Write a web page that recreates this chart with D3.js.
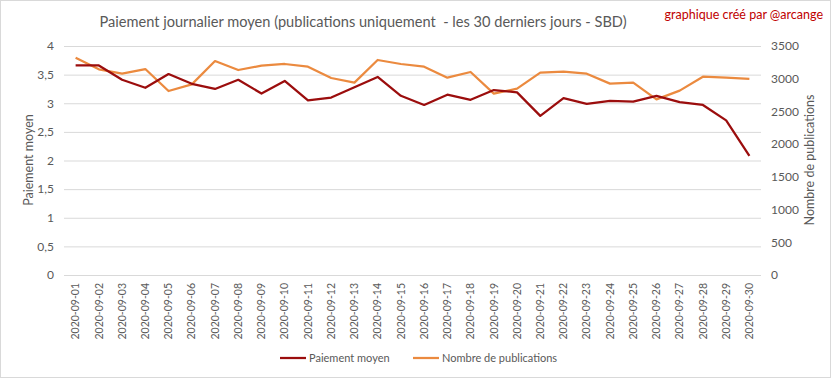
<!DOCTYPE html>
<html><head><meta charset="utf-8">
<script src="https://cdn.jsdelivr.net/npm/d3@7"></script>
<style>
html,body{margin:0;padding:0;background:#fff;}
svg{display:block;font-family:Lato,"Open Sans",sans-serif;}
</style></head>
<body><svg id="c" width="833" height="379"></svg>
<script>
const dates = ["2020-09-01","2020-09-02","2020-09-03","2020-09-04","2020-09-05","2020-09-06","2020-09-07","2020-09-08","2020-09-09","2020-09-10","2020-09-11","2020-09-12","2020-09-13","2020-09-14","2020-09-15","2020-09-16","2020-09-17","2020-09-18","2020-09-19","2020-09-20","2020-09-21","2020-09-22","2020-09-23","2020-09-24","2020-09-25","2020-09-26","2020-09-27","2020-09-28","2020-09-29","2020-09-30"];
const paiementMoyen = [3.66,3.66,3.41,3.27,3.51,3.34,3.25,3.41,3.17,3.39,3.05,3.10,3.28,3.46,3.13,2.97,3.15,3.06,3.23,3.19,2.78,3.09,2.99,3.04,3.03,3.13,3.02,2.97,2.70,2.08];
const nombrePublications = [3321,3144,3077,3148,2812,2913,3270,3133,3199,3225,3183,3011,2940,3286,3225,3183,3016,3103,2772,2849,3092,3107,3077,2925,2940,2685,2818,3031,3016,2996];
const leftTicks = [0,0.5,1,1.5,2,2.5,3,3.5,4];
const rightTicks = [0,500,1000,1500,2000,2500,3000,3500];

const svg = d3.select("#c");
const W=833,H=379;
const m = {l:64, r:761, t:46, b:275};
const grey="#595959";
const red="#9b0d0d", orange="#eb8a3f";

svg.append("rect").attr("x",0.5).attr("y",0.5).attr("width",W-3).attr("height",H-2)
  .attr("fill","#fff").attr("stroke","#d9d9d9");

const x = d3.scaleBand().domain(dates).range([m.l,m.r]);
const yL = d3.scaleLinear().domain([0,4]).range([m.b,m.t]);
const yR = d3.scaleLinear().domain([0,3500]).range([m.b,m.t]);
const cx = d => x(d)+x.bandwidth()/2;

// gridlines
const gl = d3.axisLeft(yL).tickValues(leftTicks).tickSize(-(m.r-m.l)).tickFormat("");
svg.append("g").attr("transform",`translate(${m.l},0)`).call(gl)
  .call(g=>g.select(".domain").remove())
  .call(g=>g.selectAll("line").attr("stroke","#d9d9d9").attr("stroke-width",1));

// left axis labels
const fmt = d=> String(d).replace(".",",");
svg.append("g").attr("transform",`translate(${m.l},0)`)
  .call(d3.axisLeft(yL).tickValues(leftTicks).tickSize(0).tickPadding(10).tickFormat(fmt))
  .call(g=>g.select(".domain").remove())
  .call(g=>g.selectAll("text").attr("fill",grey).attr("font-size",12).attr("font-family","Lato,sans-serif"));

svg.append("g").attr("transform",`translate(${m.r},0)`)
  .call(d3.axisRight(yR).tickValues(rightTicks).tickSize(0).tickPadding(10).tickFormat(d=>String(d)))
  .call(g=>g.select(".domain").remove())
  .call(g=>g.selectAll("text").attr("fill",grey).attr("font-size",12).attr("font-family","Lato,sans-serif"));

// x axis
svg.append("g").attr("transform",`translate(0,${m.b})`)
  .call(d3.axisBottom(x).tickSize(0).tickPadding(0))
  .call(g=>g.select(".domain").remove())
  .call(g=>g.selectAll("text").attr("fill",grey).attr("font-size",10.5).attr("font-family","Lato,sans-serif")
     .attr("text-anchor","end").attr("dy","0.35em").attr("transform","translate(0,8) rotate(-90)").attr("x",0).attr("y",0));

// lines
const lineL = d3.line().x((d,i)=>cx(dates[i])).y(d=>yL(d));
const lineR = d3.line().x((d,i)=>cx(dates[i])).y(d=>yR(d));
svg.append("path").datum(nombrePublications).attr("d",lineR).attr("fill","none").attr("stroke",orange).attr("stroke-width",2.25).attr("stroke-linejoin","round");
svg.append("path").datum(paiementMoyen).attr("d",lineL).attr("fill","none").attr("stroke",red).attr("stroke-width",2.25).attr("stroke-linejoin","round");

// titles
svg.append("text").attr("x",363).attr("y",27).attr("text-anchor","middle").attr("fill",grey)
  .attr("font-size",14.6).text("Paiement journalier moyen (publications uniquement  - les 30 derniers jours - SBD)").attr("xml:space","preserve").style("white-space","pre");
svg.append("text").attr("x",823).attr("y",19).attr("text-anchor","end").attr("fill","#c00000")
  .attr("font-size",12.5).text("graphique créé par @arcange");

svg.append("text").attr("transform","translate(33,160) rotate(-90)").attr("text-anchor","middle").attr("fill",grey)
  .attr("font-size",12.5).text("Paiement moyen");
svg.append("text").attr("transform","translate(814,160) rotate(-90)").attr("text-anchor","middle").attr("fill",grey)
  .attr("font-size",12.5).text("Nombre de publications");

// legend
const leg = [{t:"Paiement moyen",c:red,x:280},{t:"Nombre de publications",c:orange,x:413}];
leg.forEach(l=>{
  svg.append("line").attr("x1",l.x).attr("x2",l.x+26).attr("y1",358).attr("y2",358).attr("stroke",l.c).attr("stroke-width",2.25);
  svg.append("text").attr("x",l.x+29).attr("y",362).attr("fill",grey).attr("font-size",11).text(l.t);
});
</script></body></html>
